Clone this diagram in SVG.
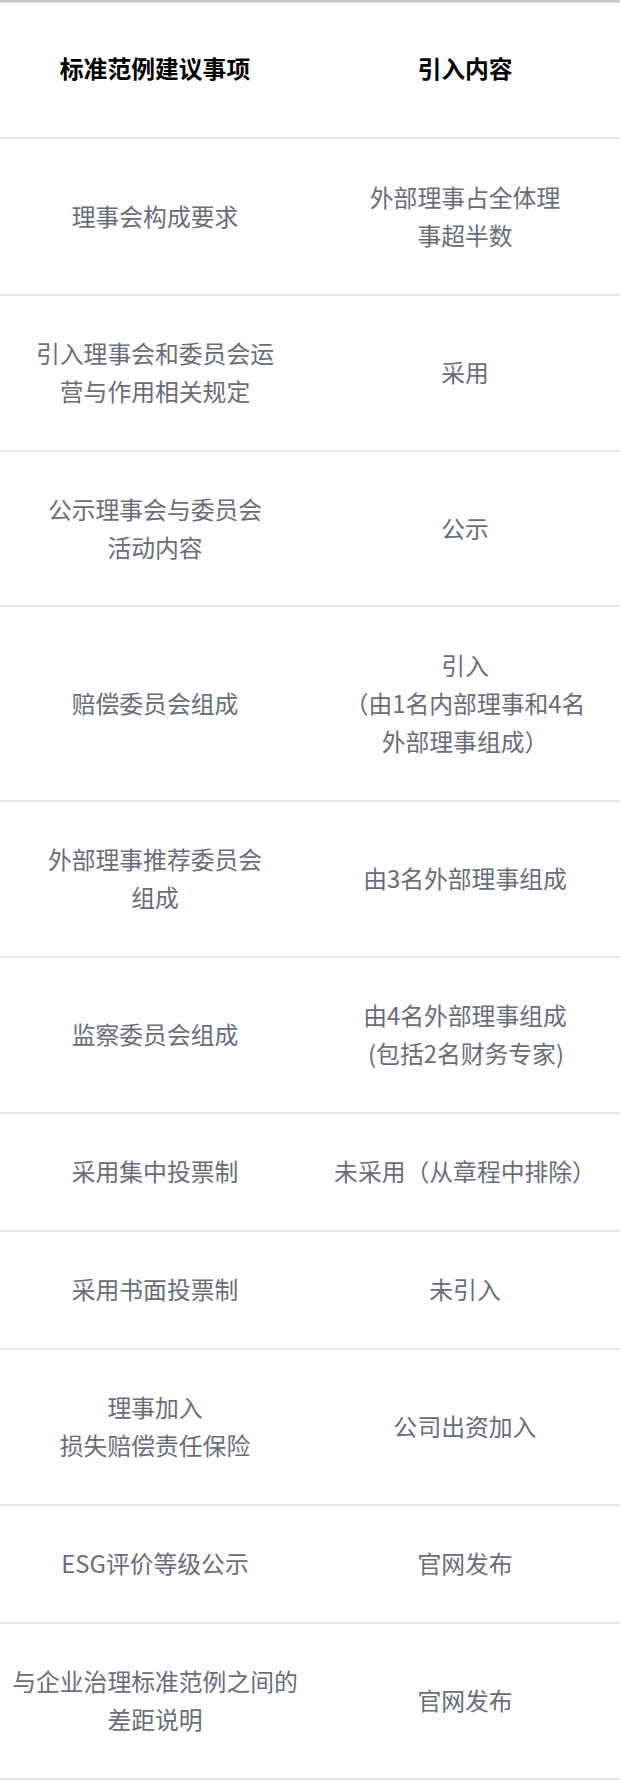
<svg xmlns="http://www.w3.org/2000/svg" width="620" height="1780" viewBox="0 0 620 1780">
<style>
  text { font-family: "Noto Sans CJK SC", "Noto Sans", sans-serif; font-size: 23.8px; text-anchor: middle; dominant-baseline: central; }
  .hd { fill: #000000; font-weight: bold; }
  .bd { fill: #676d79; }
  .rule { stroke: #e6e6e6; stroke-width: 2; }
  .top { stroke: #c9c9c9; stroke-width: 3; }
</style>
<rect x="0" y="0" width="620" height="1780" fill="#ffffff"/>
<g id="grid">
  <line class="top" x1="0" y1="1" x2="620" y2="1"/>
  <line class="rule" x1="0" y1="138" x2="620" y2="138"/>
  <line class="rule" x1="0" y1="295" x2="620" y2="295"/>
  <line class="rule" x1="0" y1="451" x2="620" y2="451"/>
  <line class="rule" x1="0" y1="606" x2="620" y2="606"/>
  <line class="rule" x1="0" y1="801" x2="620" y2="801"/>
  <line class="rule" x1="0" y1="957" x2="620" y2="957"/>
  <line class="rule" x1="0" y1="1113" x2="620" y2="1113"/>
  <line class="rule" x1="0" y1="1231" x2="620" y2="1231"/>
  <line class="rule" x1="0" y1="1349" x2="620" y2="1349"/>
  <line class="rule" x1="0" y1="1505" x2="620" y2="1505"/>
  <line class="rule" x1="0" y1="1623" x2="620" y2="1623"/>
  <line class="rule" x1="0" y1="1779" x2="620" y2="1779"/>
</g>
<g transform="translate(0,-1.5)">
<g id="header">
  <text class="hd" x="155" y="69">标准范例建议事项</text>
  <text class="hd" x="465" y="69">引入内容</text>
</g>
<g id="row1">
  <text class="bd" x="155" y="216.5">理事会构成要求</text>
  <text class="bd" x="465" y="197.5">外部理事占全体理</text>
  <text class="bd" x="465" y="235.5">事超半数</text>
</g>
<g id="row2">
  <text class="bd" x="155" y="354">引入理事会和委员会运</text>
  <text class="bd" x="155" y="392">营与作用相关规定</text>
  <text class="bd" x="465" y="373">采用</text>
</g>
<g id="row3">
  <text class="bd" x="155" y="509.5">公示理事会与委员会</text>
  <text class="bd" x="155" y="547.5">活动内容</text>
  <text class="bd" x="465" y="528.5">公示</text>
</g>
<g id="row4">
  <text class="bd" x="155" y="703.5">赔偿委员会组成</text>
  <text class="bd" x="465" y="665.5">引入</text>
  <text class="bd" x="465" y="703.5">（由1名内部理事和4名</text>
  <text class="bd" x="465" y="741.5">外部理事组成）</text>
</g>
<g id="row5">
  <text class="bd" x="155" y="860">外部理事推荐委员会</text>
  <text class="bd" x="155" y="898">组成</text>
  <text class="bd" x="465" y="879">由3名外部理事组成</text>
</g>
<g id="row6">
  <text class="bd" x="155" y="1035">监察委员会组成</text>
  <text class="bd" x="465" y="1016">由4名外部理事组成</text>
  <text class="bd" x="466" y="1054">(包括2名财务专家)</text>
</g>
<g id="row7">
  <text class="bd" x="155" y="1172">采用集中投票制</text>
  <text class="bd" x="465" y="1172">未采用（从章程中排除）</text>
</g>
<g id="row8">
  <text class="bd" x="155" y="1290">采用书面投票制</text>
  <text class="bd" x="465" y="1290">未引入</text>
</g>
<g id="row9">
  <text class="bd" x="155" y="1408">理事加入</text>
  <text class="bd" x="155" y="1446">损失赔偿责任保险</text>
  <text class="bd" x="465" y="1427">公司出资加入</text>
</g>
<g id="row10">
  <text class="bd" x="155" y="1564">ESG评价等级公示</text>
  <text class="bd" x="465" y="1564">官网发布</text>
</g>
<g id="row11">
  <text class="bd" x="155" y="1682">与企业治理标准范例之间的</text>
  <text class="bd" x="155" y="1720">差距说明</text>
  <text class="bd" x="465" y="1701">官网发布</text>
</g>
</g>
</svg>
